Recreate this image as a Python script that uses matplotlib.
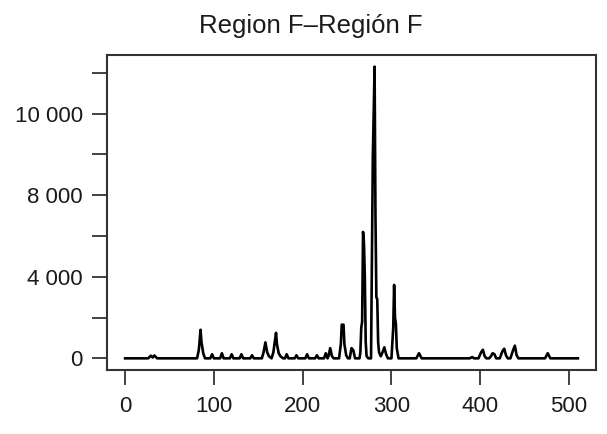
import matplotlib
matplotlib.use("Agg")
import matplotlib.pyplot as plt

plt.rcParams['font.family'] = ['Liberation Sans', 'DejaVu Sans']

title = "Region F\u2013Región F"

signal_x = [0, 26, 29, 31, 33, 36,
            81, 83, 85, 86, 88, 90,
            96, 98, 100, 107, 109, 111, 118, 120, 122, 129, 131, 133, 141, 143, 145,
            154, 156, 158, 160, 162, 165, 167, 170, 171, 173, 175, 178,
            180, 182, 184, 191, 193, 195, 203, 205, 207, 214, 216, 218,
            224, 226, 228, 229, 231, 233, 235,
            241, 243, 244, 246, 247, 249, 251, 253, 255, 257, 259,
            262, 264, 265, 266, 267, 268, 269, 270, 271, 272, 274,
            277, 279, 280, 281, 282, 283, 284, 285, 286, 288, 290, 292, 294, 296,
            300, 302, 303, 304, 305, 306, 308,
            328, 331, 334, 388, 391, 393,
            398, 401, 403, 405, 407, 410, 412, 414, 416, 418,
            422, 425, 427, 429, 431, 434, 437, 439, 441, 443,
            473, 476, 479, 510]
signal_y = [0, 0, 130, 40, 140, 0,
            0, 400, 1400, 800, 250, 0,
            0, 200, 0, 0, 250, 0, 0, 200, 0, 0, 200, 0, 0, 150, 0,
            0, 300, 780, 300, 100, 0, 300, 1250, 700, 250, 100, 0,
            0, 200, 0, 0, 150, 0, 0, 200, 0, 0, 150, 0,
            0, 250, 0, 100, 500, 100, 0,
            0, 700, 1650, 1650, 700, 150, 0, 0, 500, 400, 0,
            0, 0, 300, 1500, 1800, 6200, 5700, 4000, 800, 100, 0,
            0, 9800, 12000, 14300, 7000, 3000, 2900, 800, 300, 100, 300, 540, 200, 0,
            0, 1500, 3600, 2000, 1700, 500, 0,
            0, 250, 0, 0, 60, 0,
            0, 300, 420, 100, 0, 0, 100, 250, 200, 0,
            0, 350, 470, 150, 0, 0, 400, 620, 150, 0,
            0, 250, 0, 0]

xtick_values = [0, 100, 200, 300, 400, 500]
xtick_labels = ["0", "100", "200", "300", "400", "500"]
ytick_values = [0, 2000, 4000, 6000, 8000, 10000, 12000, 14000]
ytick_labels = ["0", "", "4 000", "", "8 000", "", "10 000", ""]

fig = plt.figure(figsize=(6.07, 4.34), dpi=100)
ax = fig.add_axes([107/607, 1-370/434, (596-107)/607, (370-55)/434])

ax.plot(signal_x, signal_y, color='black', lw=1.9, solid_joinstyle='round')

ax.set_xlim(-20.4, 530.4)
ax.set_ylim(-572, 14872)

ax.set_xticks(xtick_values)
ax.set_xticklabels(xtick_labels)
ax.set_yticks(ytick_values)
ax.set_yticklabels(ytick_labels)

for s in ax.spines.values():
    s.set_color('#333333')
    s.set_linewidth(1.5)

ax.tick_params(axis='both', direction='out', length=10.5, width=1.3,
               color='#333333', labelsize=16, labelcolor='#1a1a1a')
ax.tick_params(axis='x', pad=8)
ax.tick_params(axis='y', pad=7)

fig.text(311/607, 1-33/434, title, ha='center', va='baseline',
         fontsize=18.5, color='#1a1a1a')

fig.savefig("out.png", dpi=100)
